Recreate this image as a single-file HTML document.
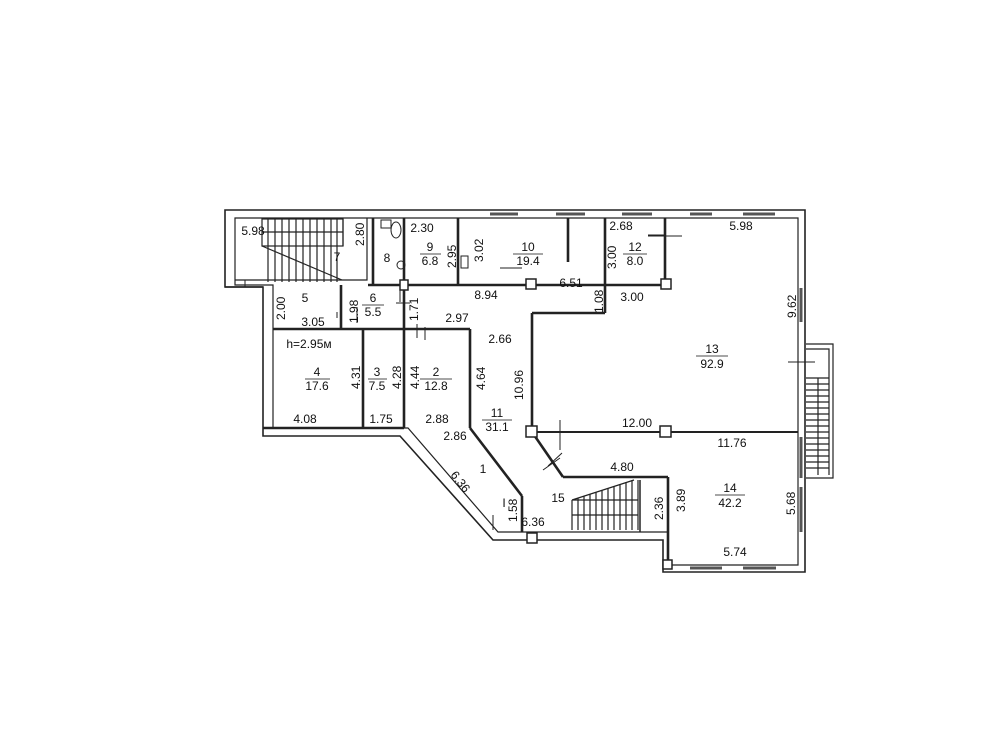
<!DOCTYPE html>
<html><head><meta charset="utf-8"><style>
html,body{margin:0;padding:0;background:#fff;}
svg{display:block}
text{font-family:"Liberation Sans",sans-serif;font-size:12px;fill:#111;}
</style></head><body>
<svg width="1000" height="750" viewBox="0 0 1000 750" xmlns="http://www.w3.org/2000/svg">
<g fill="none" stroke="#222" stroke-width="1.6">
<path d="M225 210 H805 V572 H663 V540 H493 L400 436 H263 V287 H225 Z"/>
<path d="M235 218 H798 V565 H668 V532 H498 L408 428 H273 V285 H235 Z" stroke-width="1.2"/>
<path d="M235 280 H367 V218" stroke-width="1.2"/>
<path d="M225 287 H263"/>
<line x1="245" y1="280" x2="245" y2="287" stroke-width="1"/>
<g stroke-width="3" stroke="#555">
<line x1="490" y1="214" x2="518" y2="214"/><line x1="556" y1="214" x2="585" y2="214"/>
<line x1="622" y1="214" x2="652" y2="214"/><line x1="690" y1="214" x2="712" y2="214"/>
<line x1="743" y1="214" x2="775" y2="214"/>
<line x1="801" y1="288" x2="801" y2="322"/><line x1="801" y1="437" x2="801" y2="478"/>
<line x1="801" y1="487" x2="801" y2="532"/>
<line x1="690" y1="568" x2="722" y2="568"/><line x1="743" y1="568" x2="776" y2="568"/>
</g>
<g stroke-width="2.6">
<line x1="373" y1="218" x2="373" y2="285"/>
<line x1="404" y1="218" x2="404" y2="428"/>
<line x1="458" y1="218" x2="458" y2="285"/>
<line x1="368" y1="285" x2="666" y2="285"/>
<line x1="605" y1="218" x2="605" y2="313"/>
<line x1="665" y1="218" x2="665" y2="285"/>
<line x1="532" y1="313" x2="605" y2="313"/>
<line x1="532" y1="313" x2="532" y2="432"/>
<line x1="273" y1="329" x2="470" y2="329"/>
<line x1="341" y1="285" x2="341" y2="329"/>
<line x1="363" y1="329" x2="363" y2="428"/>
<line x1="470" y1="329" x2="470" y2="428"/>
<line x1="568" y1="218" x2="568" y2="262"/>
<line x1="470" y1="428" x2="522" y2="496"/>
<line x1="522" y1="496" x2="522" y2="532"/>
<line x1="532" y1="432" x2="563" y2="477"/>
<line x1="563" y1="477" x2="668" y2="477"/>
<line x1="668" y1="477" x2="668" y2="565"/>
</g>
<line x1="532" y1="432" x2="798" y2="432" stroke-width="2"/>
<line x1="263" y1="428" x2="404" y2="428" stroke-width="2.6"/>
<line x1="640" y1="480" x2="640" y2="532" stroke-width="1.5"/>
<g stroke-width="1.5" fill="#fff">
<rect x="526" y="426" width="11" height="11"/><rect x="660" y="426" width="11" height="11"/>
<rect x="526" y="279" width="10" height="10"/><rect x="661" y="279" width="10" height="10"/>
<rect x="527" y="533" width="10" height="10"/><rect x="663" y="560" width="9" height="9"/>
<rect x="400" y="280" width="8" height="10"/>
</g>
<g stroke-width="1.2">
<rect x="262" y="219" width="81" height="27"/>
<line x1="262" y1="232" x2="343" y2="232"/>
<path d="M262 246 L342 280"/>
<path d="M268 219V282M275 219V282M282 219V282M289 219V282M296 219V282M303 219V282M310 219V282M317 219V282M324 219V282M331 219V282M337 219V282M343 219V246"/>
</g>
<g stroke-width="1.2">
<path d="M572 500 L634 480 M572 500 V530 M572 515 H638 M572 500 H638 M638 480 V530"/>
<path d="M578 498V530M584 496V530M590 494V530M596 492V530M602 490V530M608 488V530M614 486V530M620 484V530M626 482V530M632 480V530"/>
</g>
<g stroke-width="1.2">
<path d="M806 344 H833 V478 H806"/><path d="M806 349 H829 V475"/>
<line x1="818" y1="378" x2="818" y2="475"/>
<path d="M806 378H829M806 384H829M806 390H829M806 396H829M806 402H829M806 408H829M806 414H829M806 420H829M806 426H829M806 432H829M806 438H829M806 444H829M806 450H829M806 456H829M806 462H829M806 468H829"/>
</g>
<g stroke-width="1">
<path d="M788 362H815M417 324V338M337 312V318M396 303H410M400 287V302M357 307V323M425 327V340M664 235H648M648 236H682"/>
<path d="M560 420V450M543 470L560 458M562 453L548 466M493 515V530"/>
<path d="M500 268L522 268"/>
</g>
<g stroke-width="1">
<rect x="381" y="220" width="10" height="8"/><ellipse cx="396" cy="230" rx="5" ry="8"/><circle cx="401" cy="265" r="4"/>
<rect x="461" y="256" width="7" height="12"/>
</g>
</g>
<g text-anchor="middle">
<text x="253" y="235">5.98</text><text x="337" y="261">7</text>
<text x="387" y="262">8</text><text x="422" y="232">2.30</text>
<text x="430" y="251">9</text><text x="430" y="265">6.8</text>
<text x="528" y="251">10</text><text x="528" y="265">19.4</text>
<text x="635" y="251">12</text><text x="635" y="265">8.0</text>
<text x="621" y="230">2.68</text><text x="741" y="230">5.98</text>
<text x="305" y="302">5</text><text x="313" y="326">3.05</text>
<text x="373" y="302">6</text><text x="373" y="316">5.5</text>
<text x="486" y="299">8.94</text><text x="571" y="287">6.51</text>
<text x="632" y="301">3.00</text><text x="457" y="322">2.97</text>
<text x="500" y="343">2.66</text>
<text x="309" y="348">h=2.95м</text>
<text x="317" y="376">4</text><text x="317" y="390">17.6</text>
<text x="377" y="376">3</text><text x="377" y="390">7.5</text>
<text x="436" y="376">2</text><text x="436" y="390">12.8</text>
<text x="305" y="423">4.08</text><text x="381" y="423">1.75</text><text x="437" y="423">2.88</text>
<text x="497" y="417">11</text><text x="497" y="431">31.1</text>
<text x="712" y="353">13</text><text x="712" y="368">92.9</text>
<text x="637" y="427">12.00</text><text x="732" y="447">11.76</text>
<text x="455" y="440">2.86</text><text x="483" y="473">1</text>
<text x="622" y="471">4.80</text><text x="558" y="502">15</text>
<text x="533" y="526">6.36</text><text x="504" y="507">I</text>
<text x="730" y="492">14</text><text x="730" y="507">42.2</text>
<text x="735" y="556">5.74</text>
</g>
<g stroke="#111" stroke-width="0.8">
<line x1="420" y1="379" x2="452" y2="379"/>
<line x1="305" y1="379" x2="330" y2="379"/>
<line x1="368" y1="379" x2="387" y2="379"/>
<line x1="420" y1="254" x2="441" y2="254"/>
<line x1="513" y1="254" x2="543" y2="254"/>
<line x1="623" y1="254" x2="647" y2="254"/>
<line x1="362" y1="305" x2="384" y2="305"/>
<line x1="482" y1="420" x2="512" y2="420"/>
<line x1="696" y1="356" x2="728" y2="356"/>
<line x1="715" y1="495" x2="745" y2="495"/>
</g>
<g>
<text transform="translate(364,246) rotate(-90)">2.80</text>
<text transform="translate(456,268) rotate(-90)">2.95</text>
<text transform="translate(483,262) rotate(-90)">3.02</text>
<text transform="translate(616,269) rotate(-90)">3.00</text>
<text transform="translate(285,320) rotate(-90)">2.00</text>
<text transform="translate(358,323) rotate(-90)">1.98</text>
<text transform="translate(418,321) rotate(-90)">1.71</text>
<text transform="translate(603,313) rotate(-90)">1.08</text>
<text transform="translate(796,318) rotate(-90)">9.62</text>
<text transform="translate(360,389) rotate(-90)">4.31</text>
<text transform="translate(401,389) rotate(-90)">4.28</text>
<text transform="translate(419,389) rotate(-90)">4.44</text>
<text transform="translate(485,390) rotate(-90)">4.64</text>
<text transform="translate(523,400) rotate(-90)">10.96</text>
<text transform="translate(517,522) rotate(-90)">1.58</text>
<text transform="translate(663,520) rotate(-90)">2.36</text>
<text transform="translate(685,512) rotate(-90)">3.89</text>
<text transform="translate(795,515) rotate(-90)">5.68</text>
<text transform="translate(450,475) rotate(52)">6.36</text>
</g>
</svg>
</body></html>
